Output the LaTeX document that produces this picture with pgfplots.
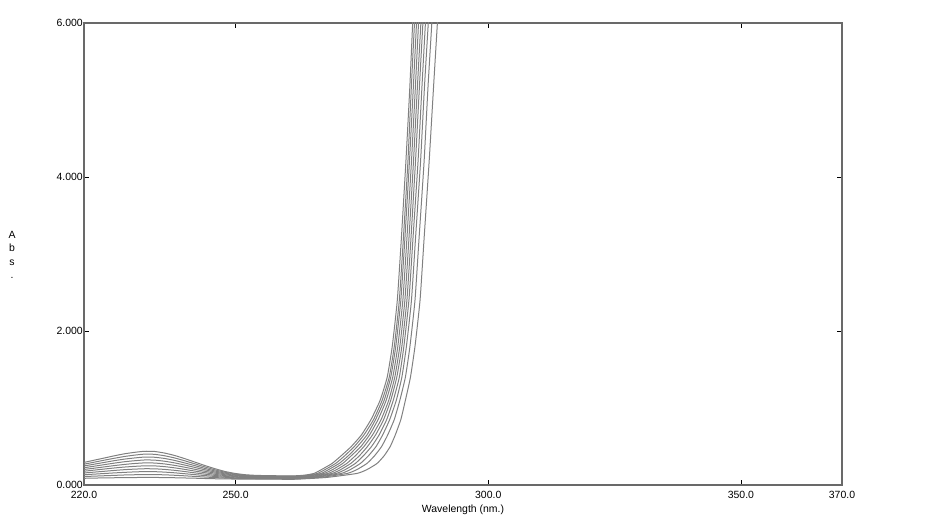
\documentclass[border=0pt]{standalone}
\usepackage{fontspec}
\setmainfont{Liberation Sans}
\usepackage{pgfplots}
\pgfplotsset{compat=1.18}
\definecolor{crv}{RGB}{128,128,128}
\definecolor{frm}{RGB}{105,105,105}
\tikzset{cv/.style={crv, solid, line width=1bp, line join=round, smooth, tension=0.3}}
\begin{document}
\begin{tikzpicture}
\begin{axis}[
  scale only axis, width=758bp, height=462bp,
  xmin=220, xmax=370, ymin=0, ymax=6,
  xtick={220,250,300,350,370},
  xticklabels={220.0,250.0,300.0,350.0,370.0},
  ytick={0,2,4,6},
  yticklabels={0.000,2.000,4.000,6.000},
  tick align=inside, major tick length=5bp,
  axis line style={frm, line width=1.3bp},
  every tick/.style={black, line width=0.8bp},
  xticklabel style={font=\fontsize{10.5}{12}\selectfont, anchor=north, inner sep=0pt, yshift=-6bp},
  yticklabel style={font=\fontsize{10.5}{12}\selectfont, anchor=east, inner sep=1bp},
  xlabel={Wavelength (nm.)},
  every axis x label/.style={at={(axis description cs:0.5,0)}, anchor=center, yshift=-25bp, font=\fontsize{10.5}{12}\selectfont},
  ylabel={\begin{tabular}{@{}c@{}}A\\b\\s\\.\end{tabular}},
  every axis y label/.style={at={(axis description cs:0,0.5)}, anchor=center, xshift=-72bp, yshift=-2bp, font=\fontsize{10.5}{13.5}\selectfont},
]
\addplot[cv] coordinates {(220,0.293)(222,0.322)(224,0.350)(226,0.379)(228,0.405)(230,0.424)(232,0.438)(234,0.435)(236,0.414)(238,0.382)(240,0.341)(242,0.296)(244,0.251)(246,0.210)(248,0.174)(250,0.149)(252,0.133)(254,0.125)(256,0.122)(258,0.120)(262,0.120)(263.8,0.129)(265.5,0.15)(267.0,0.2)(269.1,0.28)(270.9,0.38)(272.9,0.5)(274.9,0.65)(276.8,0.85)(278.6,1.1)(280.0,1.4)(281.0,1.8)(282.0,2.4)(282.8,3.2)(283.7,4.2)(284.5,5.2)(285.3,6.4)};
\addplot[cv] coordinates {(220,0.270)(222,0.296)(224,0.322)(226,0.347)(228,0.370)(230,0.388)(232,0.401)(234,0.398)(236,0.379)(238,0.350)(240,0.313)(242,0.273)(244,0.233)(246,0.195)(248,0.164)(250,0.141)(252,0.126)(254,0.119)(256,0.116)(258,0.115)(262,0.115)(264.1,0.126)(266.2,0.15)(267.7,0.2)(269.8,0.28)(271.6,0.38)(273.5,0.5)(275.4,0.65)(277.3,0.85)(279.0,1.1)(280.4,1.4)(281.4,1.8)(282.4,2.4)(283.2,3.2)(284.1,4.2)(284.8,5.2)(285.7,6.4)};
\addplot[cv] coordinates {(220,0.247)(222,0.270)(224,0.293)(226,0.316)(228,0.336)(230,0.351)(232,0.363)(234,0.360)(236,0.344)(238,0.318)(240,0.285)(242,0.250)(244,0.214)(246,0.181)(248,0.153)(250,0.133)(252,0.120)(254,0.114)(256,0.111)(258,0.110)(262,0.110)(264.5,0.122)(266.9,0.15)(268.4,0.2)(270.5,0.28)(272.3,0.38)(274.1,0.5)(276.0,0.65)(277.7,0.85)(279.4,1.1)(280.7,1.4)(281.7,1.8)(282.7,2.4)(283.5,3.2)(284.4,4.2)(285.2,5.2)(286.1,6.4)};
\addplot[cv] coordinates {(220,0.224)(222,0.244)(224,0.264)(226,0.284)(228,0.302)(230,0.315)(232,0.325)(234,0.323)(236,0.308)(238,0.286)(240,0.258)(242,0.227)(244,0.196)(246,0.167)(248,0.143)(250,0.125)(252,0.114)(254,0.108)(256,0.106)(258,0.105)(262,0.105)(264.8,0.119)(267.5,0.15)(269.2,0.2)(271.2,0.28)(272.9,0.38)(274.8,0.5)(276.5,0.65)(278.2,0.85)(279.8,1.1)(281.1,1.4)(282.1,1.8)(283.1,2.4)(283.9,3.2)(284.8,4.2)(285.6,5.2)(286.5,6.4)};
\addplot[cv] coordinates {(220,0.202)(222,0.218)(224,0.235)(226,0.252)(228,0.267)(230,0.279)(232,0.287)(234,0.285)(236,0.273)(238,0.254)(240,0.230)(242,0.203)(244,0.177)(246,0.153)(248,0.132)(250,0.117)(252,0.108)(254,0.103)(256,0.101)(258,0.100)(262,0.100)(265.2,0.115)(268.3,0.15)(270.0,0.2)(272.0,0.28)(273.7,0.38)(275.4,0.5)(277.1,0.65)(278.8,0.85)(280.3,1.1)(281.5,1.4)(282.5,1.8)(283.5,2.4)(284.3,3.2)(285.2,4.2)(286.0,5.2)(287.0,6.4)};
\addplot[cv] coordinates {(220,0.179)(222,0.193)(224,0.207)(226,0.221)(228,0.233)(230,0.242)(232,0.249)(234,0.248)(236,0.238)(238,0.222)(240,0.202)(242,0.180)(244,0.159)(246,0.138)(248,0.121)(250,0.109)(252,0.101)(254,0.097)(256,0.096)(258,0.095)(262,0.095)(265.6,0.112)(269.1,0.15)(270.8,0.2)(272.8,0.28)(274.5,0.38)(276.1,0.5)(277.7,0.65)(279.3,0.85)(280.7,1.1)(281.9,1.4)(282.9,1.8)(283.9,2.4)(284.7,3.2)(285.6,4.2)(286.4,5.2)(287.4,6.4)};
\addplot[cv] coordinates {(220,0.156)(222,0.167)(224,0.178)(226,0.189)(228,0.199)(230,0.206)(232,0.211)(234,0.210)(236,0.202)(238,0.190)(240,0.174)(242,0.157)(244,0.140)(246,0.124)(248,0.111)(250,0.101)(252,0.095)(254,0.092)(256,0.091)(258,0.090)(262,0.090)(266.0,0.108)(269.9,0.15)(271.7,0.2)(273.7,0.28)(275.3,0.38)(276.9,0.5)(278.4,0.65)(279.9,0.85)(281.2,1.1)(282.4,1.4)(283.3,1.8)(284.3,2.4)(285.1,3.2)(286.1,4.2)(286.9,5.2)(287.9,6.4)};
\addplot[cv] coordinates {(220,0.133)(222,0.141)(224,0.149)(226,0.157)(228,0.164)(230,0.170)(232,0.174)(234,0.173)(236,0.167)(238,0.158)(240,0.146)(242,0.134)(244,0.122)(246,0.110)(248,0.100)(250,0.093)(252,0.089)(254,0.086)(256,0.085)(258,0.085)(262,0.085)(266.5,0.105)(270.9,0.15)(272.7,0.2)(274.7,0.28)(276.3,0.38)(277.8,0.5)(279.1,0.65)(280.5,0.85)(281.8,1.1)(282.9,1.4)(283.8,1.8)(284.8,2.4)(285.6,3.2)(286.6,4.2)(287.4,5.2)(288.5,6.4)};
\addplot[cv] coordinates {(220,0.110)(222,0.115)(224,0.120)(226,0.125)(228,0.130)(230,0.133)(232,0.136)(234,0.135)(236,0.132)(238,0.126)(240,0.119)(242,0.111)(244,0.103)(246,0.096)(248,0.090)(250,0.085)(252,0.082)(254,0.081)(256,0.080)(258,0.080)(262,0.080)(267.1,0.101)(272.1,0.15)(274.0,0.2)(276.0,0.28)(277.5,0.38)(278.9,0.5)(280.1,0.65)(281.4,0.85)(282.5,1.1)(283.6,1.4)(284.5,1.8)(285.5,2.4)(286.3,3.2)(287.3,4.2)(288.1,5.2)(289.2,6.4)};
\addplot[cv] coordinates {(220,0.087)(222,0.090)(224,0.092)(226,0.094)(228,0.096)(230,0.097)(232,0.098)(234,0.098)(236,0.096)(238,0.094)(240,0.091)(242,0.088)(244,0.084)(246,0.081)(248,0.079)(250,0.077)(252,0.076)(254,0.075)(256,0.075)(258,0.075)(262,0.075)(268.0,0.098)(274.0,0.15)(276.0,0.2)(278.0,0.28)(279.4,0.38)(280.6,0.5)(281.6,0.65)(282.7,0.85)(283.6,1.1)(284.6,1.4)(285.5,1.8)(286.5,2.4)(287.3,3.2)(288.3,4.2)(289.2,5.2)(290.3,6.4)};
\end{axis}
\path (current axis.south west) ++(-84bp,-40bp);
\path (current axis.north east) ++(89bp,23bp);
\end{tikzpicture}
\end{document}
